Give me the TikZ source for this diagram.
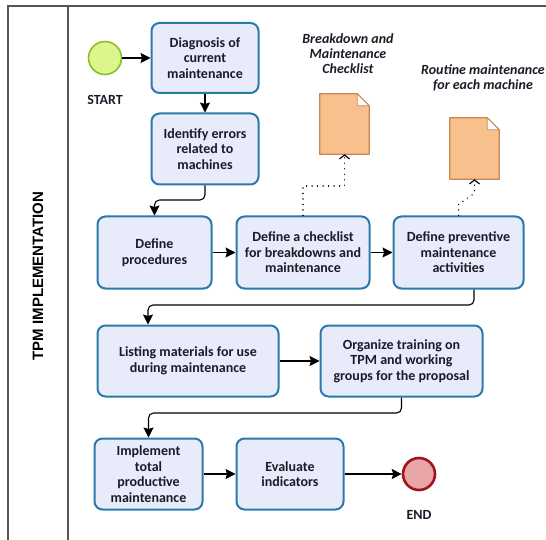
\documentclass[tikz,border=0pt]{standalone}
\usepackage{fontspec}
\setmainfont{Carlito}
\setsansfont{Liberation Sans}
\usetikzlibrary{arrows.meta,calc}
\definecolor{boxfill}{HTML}{E8EBFA}
\definecolor{boxdraw}{HTML}{2A7AAA}
\definecolor{startfill}{HTML}{DCF58C}
\definecolor{startdraw}{HTML}{8CBF26}
\definecolor{endfill}{HTML}{EAA5A8}
\definecolor{enddraw}{HTML}{A0141E}
\definecolor{docfill}{HTML}{F8C08C}
\definecolor{docdraw}{HTML}{C9874F}
\definecolor{textcol}{HTML}{1C1C28}
\definecolor{framecol}{HTML}{555555}
\begin{document}
\begin{tikzpicture}[x=1pt,y=-1pt,
  task/.style={draw=boxdraw, fill=boxfill, line width=2pt, rounded corners=8pt,
    align=center, text=textcol, inner sep=2pt,
    font=\bfseries\fontsize{14}{15.5}\selectfont},
  startev/.style={circle, draw=startdraw, fill=startfill, line width=1.6pt, minimum size=33pt, inner sep=0pt},
  endev/.style={circle, draw=enddraw, fill=endfill, line width=2.6pt, minimum size=32pt, inner sep=0pt},
  evlabel/.style={text=textcol, font=\bfseries\fontsize{14}{15.5}\selectfont},
  doclabel/.style={text=textcol, align=center, font=\bfseries\itshape\fontsize{14}{15}\selectfont},
  docnode/.style={draw=none, inner sep=0pt, minimum width=49pt, minimum height=60pt},
  docbody/.style={fill=docfill, draw=docdraw, line width=1.3pt, line join=round},
  docfold/.style={fill=white, draw=docdraw, line width=0.8pt, line join=round},
  frame/.style={draw=framecol, line width=1.4pt},
  lane/.style={rotate=90, text=black, font=\sffamily\bfseries\fontsize{15}{18}\selectfont},
  flow/.style={draw=black, line width=1.1pt, rounded corners=5pt,
    -{Stealth[length=10pt,width=10pt,inset=1.5pt]}},
  assoc/.style={draw=black, line width=1.5pt, line cap=round, dash pattern=on 0.01pt off 5.5pt,
    -{Straight Barb[length=4pt,width=10pt,line width=1.2pt]}}
]
\useasboundingbox (0,0) rectangle (546,540);
% pool / lane frame
\draw[frame] (546,6) -- (8,6) -- (8,540);
\draw[frame] (68,6) -- (68,540);
\node[lane] (lanelabel) at (38,276) {TPM IMPLEMENTATION};

% events
\node[startev] (start) at (105,58) {};
\node[evlabel] (startlbl) at (105,100) {START};
\node[endev] (end) at (419,474) {};
\node[evlabel] (endlbl) at (419,515) {END};

% tasks
\node[task, minimum width=107pt, minimum height=70pt] (diag) at (205,58) {Diagnosis of\\current\\maintenance};
\node[task, minimum width=107pt, minimum height=71pt] (ident) at (205,149) {Identify errors\\related to\\machines};
\node[task, minimum width=114pt, minimum height=72pt] (proc) at (154.5,252.5) {Define\\procedures};
\node[task, minimum width=133pt, minimum height=72pt] (check) at (303,252.5) {Define a checklist\\for breakdowns and\\maintenance};
\node[task, minimum width=130pt, minimum height=72pt] (prev) at (458.5,252.5) {Define preventive\\maintenance\\activities};
\node[task, minimum width=181pt, minimum height=71pt] (list) at (188,361) {Listing materials for use\\during maintenance};
\node[task, minimum width=162pt, minimum height=71pt] (org) at (401.5,361) {Organize training on\\TPM and working\\groups for the proposal};
\node[task, minimum width=108pt, minimum height=71pt] (impl) at (148.5,474) {Implement\\total\\productive\\maintenance};
\node[task, minimum width=107pt, minimum height=71pt] (eval) at (290,474) {Evaluate\\indicators};

% data objects
\node[docnode] (doc1) at (344.5,124) {};
\node[docnode, minimum height=61pt] (doc2) at (474.5,148.5) {};
\foreach \d in {doc1,doc2} {
  \filldraw[docbody] (\d.south west) -- (\d.north west) -- ($(\d.north east)+(-12,0)$)
     -- ($(\d.north east)+(0,12)$) -- (\d.south east) -- cycle;
  \filldraw[docfold] ($(\d.north east)+(-12,0)$) -- ($(\d.north east)+(-12,12)$)
     -- ($(\d.north east)+(0,12)$) -- cycle;
}
\node[doclabel] (doc1lbl) at (348,54) {Breakdown and\\Maintenance\\Checklist};
\node[doclabel] (doc2lbl) at (483,78) {Routine maintenance\\for each machine};

% sequence flows
\coordinate (r1) at (0,200);
\coordinate (r2) at (474,305);
\coordinate (r3) at (148,305);
\coordinate (r4) at (0,413);
\draw[flow] (start) -- (diag);
\draw[flow] (diag) -- (ident);
\draw[flow] (ident.south) -- (ident.south |- r1) -- (proc.north |- r1) -- (proc.north);
\draw[flow] (proc) -- (check);
\draw[flow] (check) -- (prev);
\draw[flow] (prev.south -| r2) -- (r2) -- (r3) -- (list.north -| r3);
\draw[flow] (list) -- (org);
\draw[flow] (org.south) -- (org.south |- r4) -- (impl.north |- r4) -- (impl.north);
\draw[flow] (impl) -- (eval);
\draw[flow] (eval) -- (end);

% associations
\coordinate (a1) at (303,186);
\draw[assoc] (check.north) -- (a1) -- (a1 -| doc1.south) -- (doc1.south);
\draw[assoc] (prev.north) -- ++(0,-11) -- ($(doc2.south)+(0,14)$) -- (doc2.south);
\end{tikzpicture}
\end{document}
